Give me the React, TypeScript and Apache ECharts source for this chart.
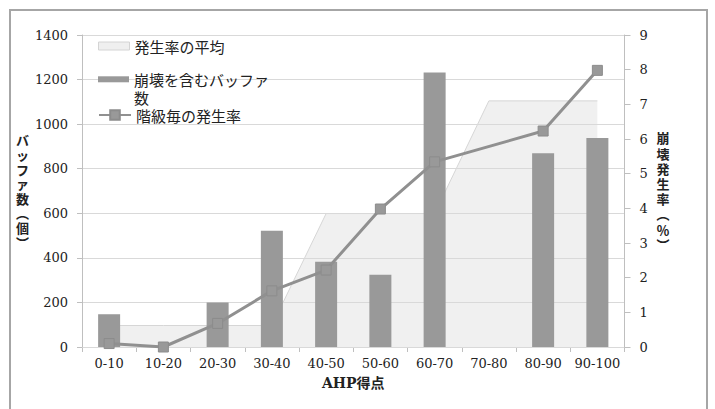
import React, { useEffect, useRef } from 'react';
import * as echarts from 'echarts';

const categories = ['0-10', '10-20', '20-30', '30-40', '40-50', '50-60', '60-70', '70-80', '80-90', '90-100'];
const bufferCounts = [147, 0, 200, 522, 382, 324, 1232, 0, 869, 938];
const classRates = [0.1, 0, 0.68, 1.62, 2.22, 3.98, 5.34, null, 6.23, 7.98];
const averageRates = [0.62, 0.62, 0.62, 0.62, 3.85, 3.85, 3.85, 7.1, 7.1, 7.1];

const seriesNames = ['発生率の平均', '崩壊を含むバッファ数', '階級毎の発生率'];
const leftAxisTitle = ['バ', 'ッ', 'フ', 'ァ', '数', '︵', '個', '︶'];
const rightAxisTitle = ['崩', '壊', '発', '生', '率', '︵', '％', '︶'];
const xAxisTitle = 'AHP得点';

const SERIF = "'DejaVu Serif', 'Liberation Serif', serif";
const JP = "'Noto Sans CJK JP', sans-serif";
const TEXT = '#222';

export default function App() {
  const ref = useRef<HTMLDivElement>(null);

  useEffect(() => {
    if (!ref.current) return;
    const chart = echarts.init(ref.current, undefined, { renderer: 'svg' });
    const legendText = { fontFamily: JP, fontSize: 15, color: TEXT, lineHeight: 18 };
    chart.setOption({
      animation: false,
      backgroundColor: '#fff',
      grid: { left: 82, right: 90.5, top: 35, bottom: 62, containLabel: false, outerBoundsMode: 'none' },
      graphic: [
        {
          type: 'rect',
          z: -1,
          shape: { x: 10, y: 10, width: 697, height: 420 },
          style: { fill: 'none', stroke: '#a6a6a6', lineWidth: 2 },
        },
      ],
      legend: [
        {
          left: 98, top: 37, padding: 0, itemWidth: 31, itemHeight: 8,
          data: [{ name: seriesNames[0], icon: 'rect', itemStyle: { color: '#efefef', borderColor: '#d4d4d4', borderWidth: 1 } }],
          textStyle: legendText,
        },
        {
          left: 98, top: 52.3, padding: 0, itemWidth: 31, itemHeight: 6,
          data: [{ name: seriesNames[1], icon: 'rect' }],
          formatter: () => ' \n崩壊を含むバッファ\n数',
          textStyle: legendText,
        },
        {
          left: 98, top: 106, padding: 0, itemWidth: 32, itemHeight: 12,
          data: [seriesNames[2]],
          textStyle: legendText,
        },
      ],
      xAxis: {
        type: 'category',
        data: categories,
        name: xAxisTitle,
        nameLocation: 'middle',
        nameGap: 29,
        nameTextStyle: { fontFamily: "'DejaVu Serif', 'Noto Sans CJK JP', serif", fontSize: 14, fontWeight: 'bold', color: TEXT },
        axisLine: { lineStyle: { color: '#bfbfbf', width: 1 } },
        axisTick: { show: true, length: 5, lineStyle: { color: '#bfbfbf' } },
        axisLabel: { fontFamily: SERIF, fontSize: 13, color: TEXT, margin: 10, interval: 0 },
      },
      yAxis: [
        {
          type: 'value',
          min: 0, max: 1400, interval: 200,
          z: 2,
          name: leftAxisTitle.join('\n'),
          nameLocation: 'middle',
          nameRotate: 0,
          nameGap: 55,
          nameTextStyle: { fontFamily: JP, fontSize: 13, fontWeight: 'bold', color: TEXT, align: 'center', verticalAlign: 'middle', lineHeight: 14.6 },
          axisLine: { show: true, lineStyle: { color: '#bfbfbf' } },
          axisTick: { show: true, length: 5, lineStyle: { color: '#bfbfbf' } },
          axisLabel: { fontFamily: SERIF, fontSize: 13, color: TEXT, margin: 14, formatter: (v: number) => String(v) },
          splitLine: { show: true, lineStyle: { color: '#d9d9d9', width: 1 } },
        },
        {
          type: 'value',
          min: 0, max: 9, interval: 1,
          z: 2,
          name: rightAxisTitle.join('\n'),
          nameLocation: 'middle',
          nameRotate: 0,
          nameGap: 38.5,
          nameTextStyle: { fontFamily: JP, fontSize: 13, fontWeight: 'bold', color: TEXT, align: 'center', verticalAlign: 'middle', lineHeight: 15.2 },
          axisLine: { show: true, lineStyle: { color: '#bfbfbf' } },
          axisTick: { show: true, length: 6, lineStyle: { color: '#bfbfbf' } },
          axisLabel: { fontFamily: SERIF, fontSize: 13, color: TEXT, margin: 15 },
          splitLine: { show: false },
        },
      ],
      series: [
        {
          name: seriesNames[0],
          type: 'line',
          yAxisIndex: 1,
          data: averageRates,
          symbol: 'none',
          z: 1,
          itemStyle: { color: '#efefef' },
          lineStyle: { color: '#d6d6d6', width: 1 },
          areaStyle: { color: '#f0f0f0', opacity: 1 },
        },
        {
          name: seriesNames[1],
          type: 'bar',
          yAxisIndex: 0,
          data: bufferCounts,
          barWidth: 22,
          z: 3,
          itemStyle: { color: '#999999' },
        },
        {
          name: seriesNames[2],
          type: 'line',
          yAxisIndex: 1,
          data: classRates,
          connectNulls: true,
          symbol: 'rect',
          symbolSize: 10,
          z: 4,
          lineStyle: { color: '#909090', width: 3 },
          itemStyle: { color: '#999999', borderColor: '#8c8c8c', borderWidth: 1 },
        },
      ],
    });
    return () => chart.dispose();
  }, []);

  return <div ref={ref} style={{ position: 'fixed', left: 0, top: 0, width: 715, height: 409 }} />;
}
